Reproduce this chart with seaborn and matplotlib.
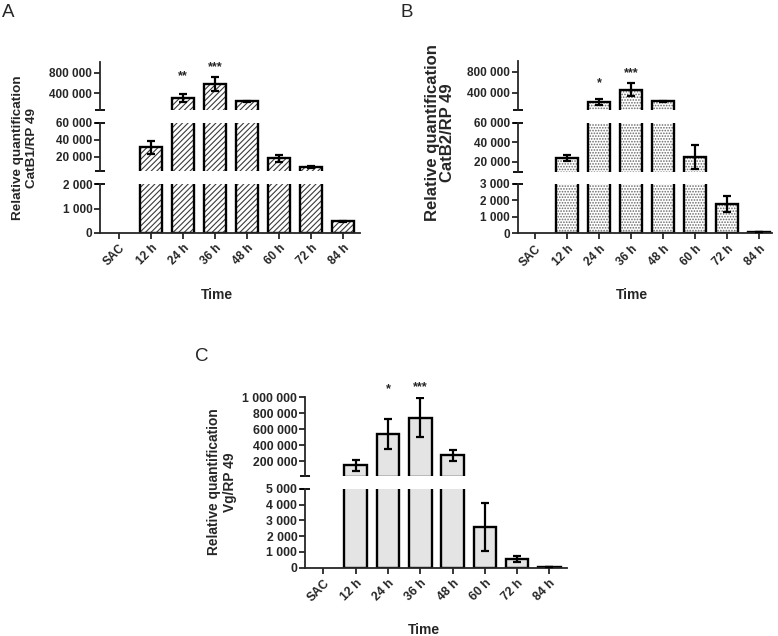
import matplotlib
matplotlib.use("Agg")
import matplotlib.pyplot as plt
import seaborn as sns
import pandas as pd
from matplotlib.ticker import FuncFormatter

# ------------------------------------------------------------
# Data
# ------------------------------------------------------------
times = ["SAC", "12 h", "24 h", "36 h", "48 h", "60 h", "72 h", "84 h"]

catb1_mean = [0, 31000, 310000, 575000, 245000, 18000, 7500, 470]
catb1_err = [0, 7500, 80000, 140000, 8000, 4000, 1200, 25]
catb1_stars = ["", "", "**", "***", "", "", "", ""]

catb2_mean = [0, 24000, 220000, 460000, 235000, 25000, 1750, 60]
catb2_err = [0, 3000, 55000, 125000, 15000, 12000, 500, 10]
catb2_stars = ["", "", "*", "***", "", "", "", ""]

vg_mean = [0, 150000, 540000, 745000, 275000, 2580, 550, 60]
vg_err = [0, 70000, 185000, 245000, 70000, 1500, 220, 15]
vg_stars = ["", "", "*", "***", "", "", "", ""]

# ------------------------------------------------------------
# Style
# ------------------------------------------------------------
sns.set_style("ticks")
plt.rcParams["font.family"] = ["Liberation Sans", "DejaVu Sans"]
plt.rcParams["font.weight"] = "bold"
plt.rcParams["hatch.linewidth"] = 0.8

W, H = 778, 636
fig = plt.figure(figsize=(W / 100, H / 100), dpi=100)


def px_axes(left, right, top, bottom):
    return fig.add_axes([left / W, 1 - bottom / H, (right - left) / W, (bottom - top) / H])


def fig_text(x, y, s, **kw):
    fig.text(x / W, 1 - y / H, s, **kw)


spaced = FuncFormatter(lambda v, pos: f"{v:,.0f}".replace(",", " "))


def draw_panel(means, errs, stars, star_y, xpix, xlim, segments, fill, hatch, tick_size):
    df = pd.DataFrame({"time": times, "value": means})
    n = len(segments)
    for k, (top, bottom, ylo, yhi, ticks) in enumerate(segments):
        ax = px_axes(xpix[0], xpix[1], top, bottom)
        # filled / patterned bars
        sns.barplot(data=df, x="time", y="value", order=times, ax=ax,
                    color=fill, width=0.7, errorbar=None, saturation=1)
        for p in ax.patches:
            p.set_linewidth(0)
            if hatch:
                p.set_hatch(hatch[0])
                p.set_edgecolor(hatch[1])
        # black outlines
        sns.barplot(data=df, x="time", y="value", order=times, ax=ax,
                    color="black", fill=False, width=0.7, errorbar=None,
                    linewidth=1.7)
        # bars that end below this segment would leave a stray line on the break
        for p in ax.patches:
            if p.get_height() <= ylo:
                p.set_visible(False)
        # error bars, only those reaching into this segment
        xs = [i for i, (m, e) in enumerate(zip(means, errs))
              if m > 0 and m + e > ylo and m - e < yhi]
        if xs:
            ax.errorbar(xs, [means[i] for i in xs],
                        yerr=[errs[i] for i in xs], fmt="none", ecolor="black",
                        elinewidth=1.6, capsize=3, capthick=1.6, zorder=5)
        ax.set_xlim(*xlim)
        ax.set_ylim(ylo, yhi)
        ax.set_yticks(ticks)
        ax.yaxis.set_major_formatter(spaced)
        ax.set_xlabel("")
        ax.set_ylabel("")
        ax.patch.set_alpha(0)
        for s in ["top", "right"]:
            ax.spines[s].set_visible(False)
        ax.spines["left"].set_linewidth(1.3)
        ax.tick_params(axis="y", length=4, width=1.3, labelsize=tick_size, pad=1.5)
        # break caps on the y axis
        if k > 0:
            ax.plot([0], [1], marker="_", ms=7, mew=1.3, color="black",
                    transform=ax.transAxes, clip_on=False)
        if k < n - 1:
            ax.plot([0], [0], marker="_", ms=7, mew=1.3, color="black",
                    transform=ax.transAxes, clip_on=False)
            ax.spines["bottom"].set_visible(False)
            ax.tick_params(axis="x", bottom=False, labelbottom=False)
        else:
            ax.spines["bottom"].set_linewidth(1.3)
            ax.set_xticks(range(len(times)))
            ax.set_xticklabels(times, rotation=45, ha="right", rotation_mode="anchor")
            ax.tick_params(axis="x", length=4, width=1.3, labelsize=tick_size, pad=3)
        if k == 0:
            for i, s in enumerate(stars):
                if s:
                    ax.text(i, star_y[i], s, ha="center", va="baseline",
                            fontsize=9, clip_on=False)


# ---------------- Panel A ----------------
draw_panel(catb1_mean, catb1_err, catb1_stars,
           [0, 0, 668000, 843000, 0, 0, 0, 0],
           (100, 360), (-0.59, 7.53),
           [(61.7, 110, 76000, 1013000, [400000, 800000]),
            (122.7, 171, 3200, 60000, [20000, 40000, 60000]),
            (184.3, 232.7, 0, 2000, [0, 1000, 2000])],
           "white", ("//////", "#3a3a3a"), 8.5)
fig_text(2, 16.7, "A", fontsize=13.5, fontweight="normal", va="baseline")
fig_text(25, 148, "Relative quantification\nCatB1/RP 49", rotation=90,
         ha="center", va="center", fontsize=9.7, multialignment="center")
fig_text(217, 295, "Time", ha="center", va="center", fontsize=10)

# ---------------- Panel B ----------------
draw_panel(catb2_mean, catb2_err, catb2_stars,
           [0, 0, 528000, 718000, 0, 0, 0, 0],
           (517.7, 771.7), (-0.55, 7.39),
           [(61, 110, 70500, 1004000, [400000, 800000]),
            (123, 171.7, 10000, 60000, [20000, 40000, 60000]),
            (183.7, 233, 0, 3000, [0, 1000, 2000, 3000])],
           "white", ("......", "#6a6a6a"), 8.5)
fig_text(400, 16.7, "B", fontsize=13.5, fontweight="normal", va="baseline")
fig_text(440, 133, "Relative quantification\nCatB2/RP 49", rotation=90,
         ha="center", va="center", fontsize=12, multialignment="center",
         linespacing=1.0)
fig_text(632, 295, "Time", ha="center", va="center", fontsize=10)

# ---------------- Panel C ----------------
draw_panel(vg_mean, vg_err, vg_stars,
           [0, 0, 1060000, 1091000, 0, 0, 0, 0],
           (305, 566.5), (-0.57, 7.53),
           [(397.3, 475.7, 20000, 1000000, [200000, 400000, 600000, 800000, 1000000]),
            (488.7, 567.7, 0, 5000, [0, 1000, 2000, 3000, 4000, 5000])],
           "#e4e4e4", None, 8.8)
fig_text(195, 361, "C", fontsize=13.5, fontweight="normal", va="baseline")
fig_text(222, 482, "Relative quantification\nVg/RP 49", rotation=90,
         ha="center", va="center", fontsize=9.9, multialignment="center")
fig_text(424, 630, "Time", ha="center", va="center", fontsize=10)

fig.savefig("out.png", dpi=100)
